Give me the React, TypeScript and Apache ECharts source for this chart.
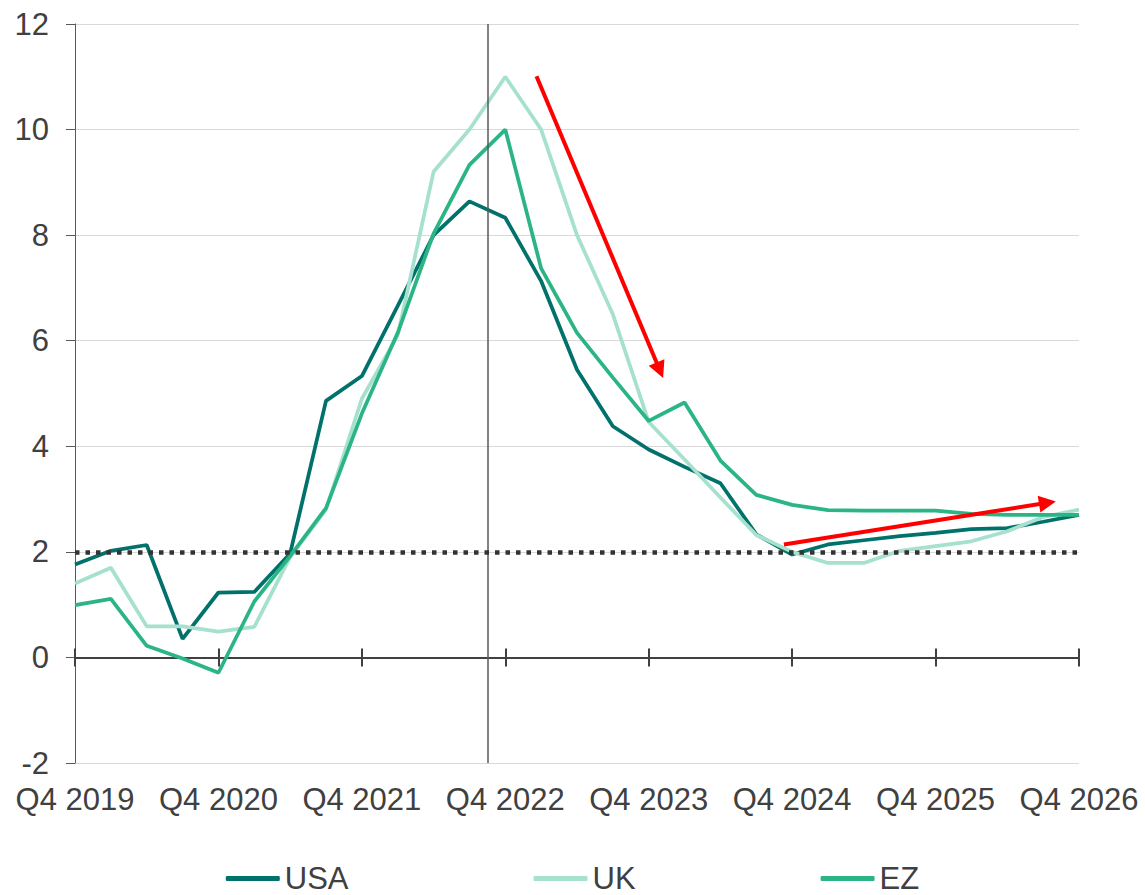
import React, { useEffect, useRef } from "react";
import * as echarts from "echarts";

const quarters = [
  "Q4 2019", "Q1 2020", "Q2 2020", "Q3 2020", "Q4 2020",
  "Q1 2021", "Q2 2021", "Q3 2021", "Q4 2021",
  "Q1 2022", "Q2 2022", "Q3 2022", "Q4 2022",
  "Q1 2023", "Q2 2023", "Q3 2023", "Q4 2023",
  "Q1 2024", "Q2 2024", "Q3 2024", "Q4 2024",
  "Q1 2025", "Q2 2025", "Q3 2025", "Q4 2025",
  "Q1 2026", "Q2 2026", "Q3 2026", "Q4 2026",
];

const usa = [1.76, 2.02, 2.13, 0.35, 1.23, 1.24, 1.97, 4.86, 5.33, 6.66, 8.0, 8.64, 8.33, 7.13, 5.45, 4.38, 3.94, 3.61, 3.3, 2.33, 1.95, 2.14, 2.22, 2.3, 2.36, 2.43, 2.45, 2.57, 2.7];
const uk = [1.4, 1.7, 0.59, 0.59, 0.49, 0.58, 1.9, 2.8, 4.9, 6.1, 9.2, 10.0, 11.0, 10.0, 8.0, 6.5, 4.46, 3.75, 3.03, 2.32, 2.0, 1.79, 1.79, 2.02, 2.11, 2.2, 2.39, 2.66, 2.8];
const ez = [0.99, 1.11, 0.22, -0.02, -0.29, 1.06, 1.92, 2.83, 4.62, 6.15, 8.03, 9.33, 10.0, 7.37, 6.15, 5.3, 4.48, 4.83, 3.73, 3.08, 2.89, 2.79, 2.78, 2.78, 2.78, 2.72, 2.7, 2.7, 2.7];

const seriesNames = ["USA", "UK", "EZ"];
const seriesColors = ["#00716b", "#a6e0cf", "#2bb585"];

const targetRate = 2;
const markerQuarter = 11.5;
// red trend arrows: [startIndex, startValue, endIndex, endValue]
const arrows = [
  [12.87, 11.01, 16.31, 5.44],
  [19.77, 2.14, 27.12, 2.93],
];

const labelFont = "'Liberation Sans', Arial, sans-serif";

export default function App() {
  const ref = useRef<HTMLDivElement>(null);

  useEffect(() => {
    if (!ref.current) return;
    const chart = echarts.init(ref.current, null, { renderer: "svg" });
    const allData = [usa, uk, ez];
    const baseX = {
      type: "value",
      min: 0,
      max: quarters.length - 1,
      interval: 4,
      splitLine: { show: false },
    };
    const option = {
      animation: false,
      backgroundColor: "#ffffff",
      grid: { left: 75, right: 66, top: 24, bottom: 132, containLabel: false },
      legend: {
        data: seriesNames,
        top: 858,
        left: "center",
        itemGap: 185,
        itemWidth: 54,
        itemHeight: 5,
        icon: "roundRect",
        textStyle: {
          fontFamily: labelFont,
          fontSize: 31,
          lineHeight: 31,
          color: "#404040",
        },
      },
      xAxis: [
        {
          ...baseX,
          position: "bottom",
          axisLine: { show: false, onZero: false },
          axisTick: { show: false },
          axisLabel: {
            formatter: (v: number) => quarters[v] ?? "",
            fontSize: 31,
            fontFamily: labelFont,
            color: "#404040",
            margin: 21,
          },
        },
        {
          ...baseX,
          position: "bottom",
          axisLine: { show: true, onZero: true, onZeroAxisIndex: 0, lineStyle: { color: "#404040", width: 2 } },
          axisTick: { show: true, length: 9, lineStyle: { color: "#404040", width: 2 } },
          axisLabel: { show: false },
        },
        {
          ...baseX,
          position: "bottom",
          axisLine: { show: false, onZero: true, onZeroAxisIndex: 0 },
          axisTick: { show: true, inside: true, length: 9, lineStyle: { color: "#404040", width: 2 } },
          axisLabel: { show: false },
        },
      ],
      yAxis: {
        type: "value",
        min: -2,
        max: 12,
        interval: 2,
        axisLine: { show: true, onZero: false, lineStyle: { color: "#595959", width: 1 } },
        axisTick: { show: true, length: 9, lineStyle: { color: "#595959", width: 1 } },
        splitLine: { show: true, lineStyle: { color: "#d9d9d9", width: 1 } },
        axisLabel: { fontSize: 31, fontFamily: labelFont, color: "#404040", margin: 26 },
      },
      series: [
        {
          type: "line",
          name: "_ref",
          data: [],
          z: 1,
          silent: true,
          markLine: {
            silent: true,
            symbol: ["none", "none"],
            label: { show: false },
            emphasis: { disabled: true },
            data: [
              { xAxis: markerQuarter, lineStyle: { color: "#595959", width: 1.5, type: "solid" } },
              { yAxis: targetRate, lineStyle: { color: "#333333", width: 4.5, type: [4.5, 6], cap: "butt" } },
            ],
          },
        },
        ...seriesNames.map((name, k) => ({
          type: "line",
          name,
          xAxisIndex: 0,
          data: allData[k].map((v, i) => [i, v]),
          symbol: "none",
          z: 2 + k,
          lineStyle: { color: seriesColors[k], width: 3.75 },
          itemStyle: { color: seriesColors[k] },
          emphasis: { disabled: true },
        })),
        {
          type: "line",
          name: "_arrows",
          data: [],
          z: 10,
          silent: true,
          markLine: {
            silent: true,
            symbolSize: 17,
            label: { show: false },
            emphasis: { disabled: true },
            lineStyle: { color: "#ff0000", width: 4, type: "solid" },
            itemStyle: { color: "#ff0000" },
            data: arrows.map((a) => [
              { coord: [a[0], a[1]], symbol: "none" },
              { coord: [a[2], a[3]], symbol: "triangle", symbolSize: 17 },
            ]),
          },
        },
      ],
    };
    chart.setOption(option as any);
    return () => chart.dispose();
  }, []);

  return (
    <div
      ref={ref}
      style={{ position: "absolute", left: 0, top: 0, width: 1145, height: 895 }}
    />
  );
}
